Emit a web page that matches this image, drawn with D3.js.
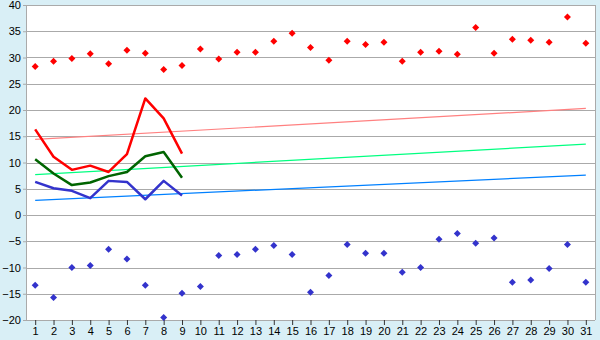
<!DOCTYPE html>
<html>
<head>
<meta charset="utf-8">
<script src="https://cdn.jsdelivr.net/npm/d3@7"></script>
<style>
  html, body { margin: 0; padding: 0; background: #d9eff6; }
  svg { display: block; }
</style>
</head>
<body>
<div id="chart"></div>
<script>
// Days of the month
const days = d3.range(1, 32);

// Daily extremes (diamonds)
const maxTemps = [28.3, 29.3, 29.8, 30.7, 28.8, 31.4, 30.8, 27.7, 28.5, 31.6,
  29.7, 31.0, 31.0, 33.1, 34.6, 31.9, 29.5, 33.1, 32.5, 32.9,
  29.3, 31.0, 31.2, 30.6, 35.7, 30.8, 33.5, 33.3, 32.9, 37.7, 32.7];
const minTemps = [-13.4, -15.7, -10.0, -9.6, -6.5, -8.4, -13.4, -19.5, -14.9, -13.6,
  -7.7, -7.5, -6.5, -5.8, -7.5, -14.7, -11.5, -5.6, -7.3, -7.3,
  -10.9, -10.0, -4.6, -3.5, -5.4, -4.4, -12.8, -12.4, -10.2, -5.6, -12.8];

// Actual values so far (days 1-9)
const actualDays = [1, 2, 3, 4, 5, 6, 7, 8, 9];
const actualMax = [16.3, 11.1, 8.6, 9.4, 8.2, 11.6, 22.2, 18.4, 11.7];
const actualAvg = [10.6, 7.9, 5.7, 6.2, 7.4, 8.2, 11.2, 12.0, 7.1];
const actualMin = [6.3, 5.1, 4.6, 3.2, 6.5, 6.3, 3.0, 6.5, 3.7];

// Normal trend lines (start / end of month)
const trendDays = [1, 31];
const trendMax = [14.4, 20.3];
const trendAvg = [7.7, 13.5];
const trendMin = [2.8, 7.6];

const yTicks = d3.range(-20, 41, 5);

const width = 600, height = 340;
const margin = { top: 5, right: 5, bottom: 20, left: 26 };
const innerW = width - margin.left - margin.right;
const innerH = height - margin.top - margin.bottom;

const svg = d3.select('#chart').append('svg')
  .attr('width', width)
  .attr('height', height)
  .style('font-family', 'DejaVu Sans, Verdana, sans-serif');

svg.append('rect').attr('width', width).attr('height', height).attr('fill', '#d9eff6');

const g = svg.append('g').attr('transform', `translate(${margin.left},${margin.top})`);

const x = d3.scalePoint().domain(days).range([0, innerW]).padding(0.5);
const y = d3.scaleLinear().domain([-20, 40]).range([innerH, 0]);

// Plot area
g.append('rect').attr('width', innerW).attr('height', innerH).attr('fill', '#fff');

// Grid
g.append('g')
  .selectAll('line')
  .data(yTicks)
  .join('line')
  .attr('x1', 0).attr('x2', innerW)
  .attr('y1', d => Math.round(y(d)) + 0.5).attr('y2', d => Math.round(y(d)) + 0.5)
  .attr('stroke', '#aaa');

// Frame
g.append('line').attr('x1', 0.5).attr('x2', 0.5).attr('y1', 0).attr('y2', innerH).attr('stroke', '#aaa');
g.append('line').attr('x1', innerW + 0.5).attr('x2', innerW + 0.5).attr('y1', 0).attr('y2', innerH).attr('stroke', '#aaa');

// Y axis
const yAxis = g.append('g')
  .call(d3.axisLeft(y).tickValues(yTicks).tickSize(3).tickPadding(2));
yAxis.select('.domain').remove();
yAxis.selectAll('line').attr('stroke', '#aaa');
yAxis.selectAll('text').attr('font-size', 11).attr('fill', '#000');

// X axis
const xAxis = g.append('g')
  .attr('transform', `translate(0,${innerH})`)
  .call(d3.axisBottom(x).tickSize(5).tickPadding(2));
xAxis.select('.domain').remove();
xAxis.selectAll('line').attr('stroke', '#333');
xAxis.selectAll('text').attr('font-size', 11).attr('fill', '#000');

// Trend lines
const straight = d3.line().x(d => x(d[0])).y(d => y(d[1]));
[[trendMax, '#ff8080'], [trendAvg, '#00ff80'], [trendMin, '#0080ff']].forEach(([vals, col]) => {
  g.append('path')
    .datum(trendDays.map((d, i) => [d, vals[i]]))
    .attr('d', straight)
    .attr('fill', 'none')
    .attr('stroke', col)
    .attr('stroke-width', 1.2);
});

// Actual lines
[[actualMax, '#ff0000'], [actualAvg, '#006400'], [actualMin, '#3333cc']].forEach(([vals, col]) => {
  g.append('path')
    .datum(actualDays.map((d, i) => [d, vals[i]]))
    .attr('d', straight)
    .attr('fill', 'none')
    .attr('stroke', col)
    .attr('stroke-width', 2.5)
    .attr('stroke-linejoin', 'round');
});

// Diamonds
const diamond = 'M0,-3.5L3.5,0L0,3.5L-3.5,0Z';
g.append('g')
  .selectAll('path')
  .data(days)
  .join('path')
  .attr('d', diamond)
  .attr('transform', (d, i) => `translate(${x(d)},${y(maxTemps[i])})`)
  .attr('fill', '#ff0000');

g.append('g')
  .selectAll('path')
  .data(days)
  .join('path')
  .attr('d', diamond)
  .attr('transform', (d, i) => `translate(${x(d)},${y(minTemps[i])})`)
  .attr('fill', '#3333cc');
</script>
</body>
</html>
